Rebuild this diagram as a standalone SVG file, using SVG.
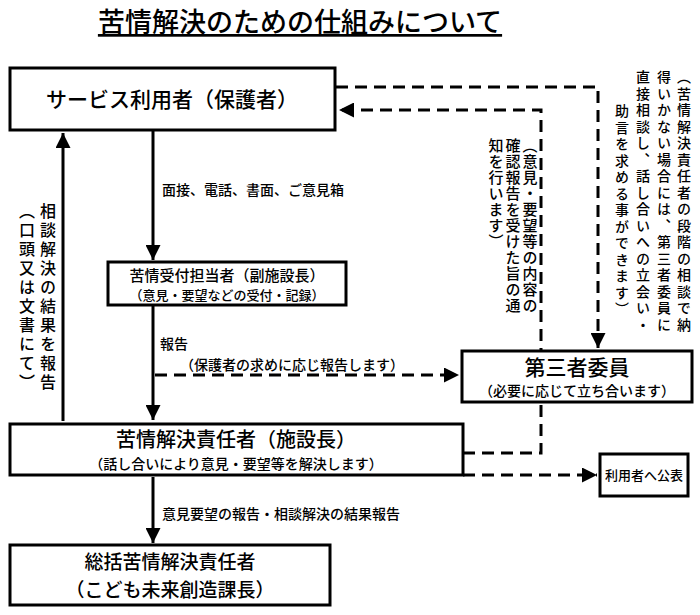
<svg xmlns="http://www.w3.org/2000/svg" width="700" height="615" viewBox="0 0 700 615">
<style>
text{font-family:"Noto Sans CJK JP","Noto Sans CJK SC",sans-serif;fill:#000;font-weight:500}
.box{fill:#fff;stroke:#000;stroke-width:3}
.ln{stroke:#000;stroke-width:3;fill:none}
.dl{stroke:#000;stroke-width:3;fill:none;stroke-dasharray:12,7}
.v{writing-mode:vertical-rl;font-size:14px;letter-spacing:1px}
</style>
<defs>
<marker id="a" viewBox="0 0 10 10" refX="10" refY="5" markerWidth="5" markerHeight="5" orient="auto" markerUnits="strokeWidth"><path d="M0,0L10,5L0,10z" fill="#000"/></marker>
</defs>
<rect width="700" height="615" fill="#fff"/>
<text x="300" y="32" font-size="27" text-anchor="middle" text-decoration="underline">苦情解決のための仕組みについて</text>
<g id="connectors">
<line class="ln" x1="153" y1="131" x2="153" y2="260" marker-end="url(#a)"/>
<line class="ln" x1="153" y1="306" x2="153" y2="420" marker-end="url(#a)"/>
<line class="ln" x1="63" y1="421" x2="63" y2="133" marker-end="url(#a)"/>
<line class="ln" x1="153" y1="477" x2="153" y2="543" marker-end="url(#a)"/>
<path class="dl" d="M155,375H459" marker-end="url(#a)"/>
<path class="dl" d="M336,87H598V348" marker-end="url(#a)"/>
<path class="dl" d="M463,453H541V110H339" marker-end="url(#a)"/>
<path class="dl" d="M463,475H597" marker-end="url(#a)"/>
</g>
<g id="n1"><rect class="box" x="10" y="68" width="325" height="62"/><text x="172" y="107" font-size="21" text-anchor="middle">サービス利用者（保護者）</text></g>
<g id="n2"><rect class="box" x="108" y="262" width="238" height="43"/><text x="227" y="281" font-size="15" text-anchor="middle">苦情受付担当者（副施設長）</text><text x="227" y="300" font-size="13" text-anchor="middle">（意見・要望などの受付・記録）</text></g>
<g id="n3"><rect class="box" x="462" y="351" width="230" height="51"/><text x="577" y="375" font-size="21" text-anchor="middle">第三者委員</text><text x="577" y="396" font-size="14" text-anchor="middle">（必要に応じて立ち合います）</text></g>
<g id="n4"><rect class="box" x="10" y="424" width="453" height="51"/><text x="236" y="447" font-size="20" text-anchor="middle">苦情解決責任者（施設長）</text><text x="236" y="469" font-size="14" text-anchor="middle">（話し合いにより意見・要望等を解決します）</text></g>
<g id="n5"><rect class="box" x="600" y="454" width="88" height="42"/><text x="644" y="480" font-size="13" text-anchor="middle">利用者へ公表</text></g>
<g id="n6"><rect class="box" x="10" y="545" width="320" height="60"/><text x="170" y="569" font-size="19" text-anchor="middle">総括苦情解決責任者</text><text x="170" y="597" font-size="19" text-anchor="middle">（こども未来創造課長）</text></g>
<g id="labels">
<text x="162" y="195" font-size="14">面接、電話、書面、ご意見箱</text>
<text x="160" y="349" font-size="14">報告</text>
<text x="180" y="370" font-size="14">（保護者の求めに応じ報告します）</text>
<text x="162" y="519" font-size="14">意見要望の報告・相談解決の結果報告</text>
<text class="v" x="48" y="203" style="font-size:16px;letter-spacing:3px">相談解決の結果を報告</text>
<text class="v" x="27" y="203" style="font-size:16px;letter-spacing:3px">（口頭又は文書にて）</text>
<text class="v" x="530" y="138" style="font-size:15px;letter-spacing:1px">（意見・要望等の内容の</text>
<text class="v" x="513" y="138" style="font-size:15px;letter-spacing:1px">確認報告を受けた旨の通</text>
<text class="v" x="496" y="138" style="font-size:15px;letter-spacing:1px">知を行います）</text>
<text class="v" x="684" y="70" style="letter-spacing:2.5px">（苦情解決責任者の段階の相談で納</text>
<text class="v" x="664" y="70" style="letter-spacing:2.5px">得いかない場合には、第三者委員に</text>
<text class="v" x="643" y="70" style="letter-spacing:2.5px">直接相談し、話し合いへの立会い・</text>
<text class="v" x="622" y="104" style="letter-spacing:2.5px">助言を求める事ができます）</text>
</g>
</svg>
